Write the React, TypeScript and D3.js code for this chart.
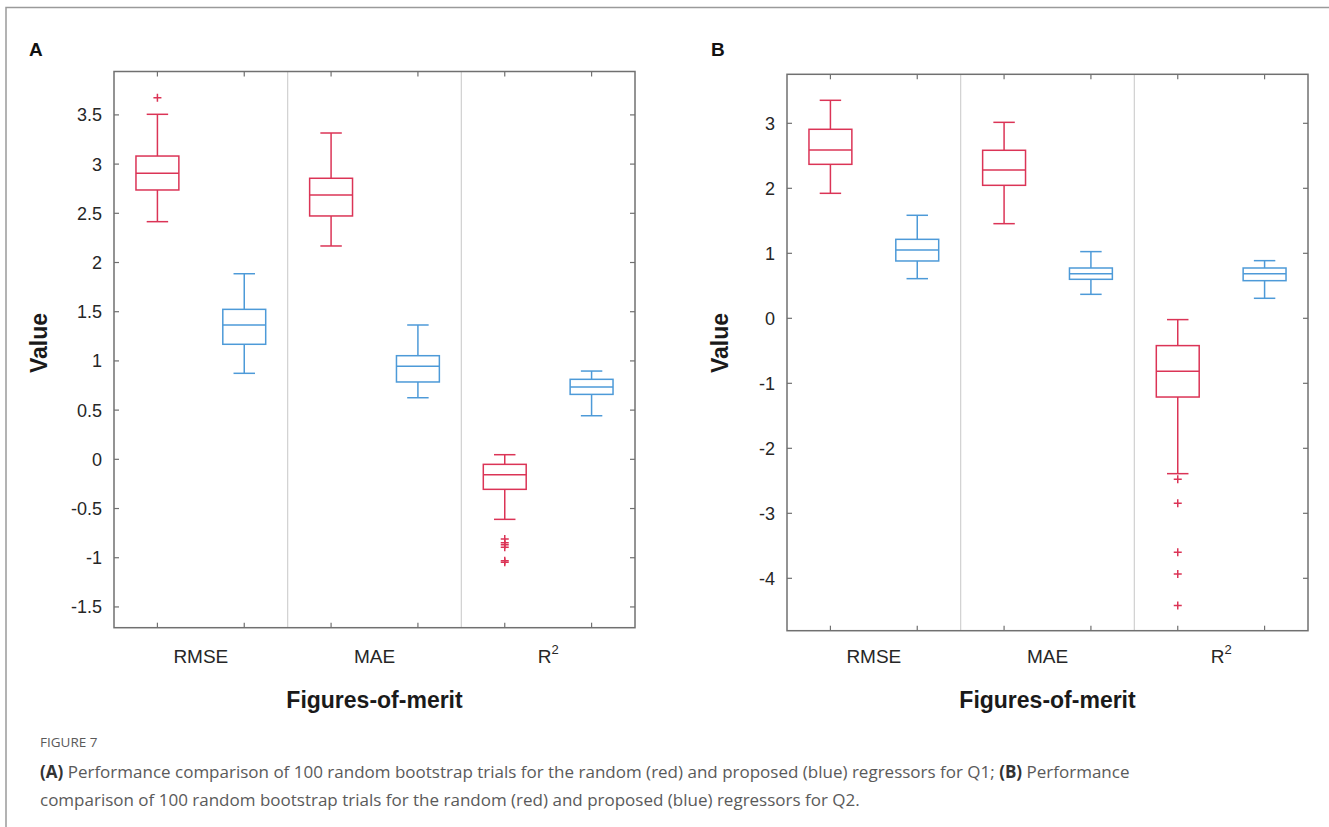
import React, { useEffect, useRef } from "react";
import * as d3 from "d3";

// figures-of-merit and the two regressors
const metrics = ["RMSE", "MAE", "R2"];
const regressors = ["random", "proposed"];

// box stats per metric: [lower whisker, q1, median, q3, upper whisker]
const randomQ1 = [
  [2.415, 2.737, 2.906, 3.082, 3.506],
  [2.168, 2.473, 2.686, 2.856, 3.316],
  [-0.61, -0.305, -0.156, -0.051, 0.047],
];
const proposedQ1 = [
  [0.874, 1.169, 1.365, 1.524, 1.886],
  [0.626, 0.786, 0.945, 1.053, 1.365],
  [0.443, 0.66, 0.735, 0.813, 0.897],
];
const randomQ1Outliers = [[3.675], [], [-0.81, -0.848, -0.867, -0.894, -1.03, -1.045]];
const proposedQ1Outliers = [[], [], []];

const randomQ2 = [
  [1.923, 2.369, 2.59, 2.908, 3.354],
  [1.456, 2.046, 2.282, 2.585, 3.015],
  [-2.39, -1.211, -0.815, -0.42, -0.02],
];
const proposedQ2 = [
  [0.61, 0.882, 1.051, 1.215, 1.585],
  [0.369, 0.6, 0.687, 0.774, 1.026],
  [0.308, 0.579, 0.687, 0.774, 0.887],
];
const randomQ2Outliers = [[], [], [-2.477, -2.846, -3.6, -3.934, -4.42]];
const proposedQ2Outliers = [[], [], []];

const ticksQ1 = [-1.5, -1, -0.5, 0, 0.5, 1, 1.5, 2, 2.5, 3, 3.5];
const ticksQ2 = [-4, -3, -2, -1, 0, 1, 2, 3];
const domainQ1 = [-1.711, 3.941];
const domainQ2 = [-4.806, 3.754];

const RED = "#db3456";
const BLUE = "#4d9ad8";
const AXIS = "#707070";
const FONT = "'Liberation Sans', Arial, Helvetica, sans-serif";

function drawPanel(svg, p) {
  const g = svg.append("g");
  const x = d3.scaleBand().domain(metrics).range([p.left, p.right]);
  const inner = d3.scalePoint().domain(regressors).range([0, x.bandwidth()]).padding(0.5);
  const y = d3.scaleLinear().domain(p.domain).range([p.bottom, p.top]);
  const bw = x.bandwidth() * 0.247;
  const cap = bw / 2;
  const tick = 5;

  // group separators
  g.selectAll(".sep").data(metrics.slice(1)).join("line")
    .attr("x1", d => x(d)).attr("x2", d => x(d))
    .attr("y1", p.top).attr("y2", p.bottom)
    .attr("stroke", "#d0d0d0").attr("stroke-width", 1.2);

  // boxes
  const series = [
    { key: "random", stats: p.random, out: p.randomOut, color: RED },
    { key: "proposed", stats: p.proposed, out: p.proposedOut, color: BLUE },
  ];
  series.forEach(s => {
    metrics.forEach((m, i) => {
      const [lo, q1, med, q3, hi] = s.stats[i];
      const cx = x(m) + inner(s.key);
      const bg = g.append("g").attr("stroke", s.color).attr("stroke-width", 1.5).attr("fill", "none");
      bg.append("line").attr("x1", cx).attr("x2", cx).attr("y1", y(hi)).attr("y2", y(q3));
      bg.append("line").attr("x1", cx).attr("x2", cx).attr("y1", y(q1)).attr("y2", y(lo));
      bg.append("line").attr("x1", cx - cap / 2).attr("x2", cx + cap / 2).attr("y1", y(hi)).attr("y2", y(hi));
      bg.append("line").attr("x1", cx - cap / 2).attr("x2", cx + cap / 2).attr("y1", y(lo)).attr("y2", y(lo));
      bg.append("rect").attr("x", cx - bw / 2).attr("width", bw)
        .attr("y", y(q3)).attr("height", y(q1) - y(q3));
      bg.append("line").attr("x1", cx - bw / 2).attr("x2", cx + bw / 2).attr("y1", y(med)).attr("y2", y(med));
      bg.selectAll(".out").data(s.out[i]).join("path")
        .attr("d", "M-4,0H4M0,-4V4")
        .attr("transform", d => `translate(${cx},${y(d)})`);
    });
  });

  // axes box
  g.append("rect").attr("x", p.left).attr("y", p.top)
    .attr("width", p.right - p.left).attr("height", p.bottom - p.top)
    .attr("fill", "none").attr("stroke", AXIS).attr("stroke-width", 1.5);

  const ticks = g.append("g").attr("stroke", AXIS).attr("stroke-width", 1.2);
  p.ticks.forEach(v => {
    ticks.append("line").attr("x1", p.left).attr("x2", p.left + tick).attr("y1", y(v)).attr("y2", y(v));
    ticks.append("line").attr("x1", p.right - tick).attr("x2", p.right).attr("y1", y(v)).attr("y2", y(v));
  });
  metrics.forEach(m => regressors.forEach(r => {
    const cx = x(m) + inner(r);
    ticks.append("line").attr("x1", cx).attr("x2", cx).attr("y1", p.bottom).attr("y2", p.bottom - tick);
    ticks.append("line").attr("x1", cx).attr("x2", cx).attr("y1", p.top).attr("y2", p.top + tick);
  }));

  g.selectAll(".ylab").data(p.ticks).join("text")
    .attr("x", p.left - 12).attr("y", d => y(d) + 6.5)
    .attr("text-anchor", "end").attr("font-family", FONT).attr("font-size", 18).attr("fill", "#262626")
    .text(d => String(d));

  // metric labels
  metrics.forEach(m => {
    const t = g.append("text").attr("x", x(m) + x.bandwidth() / 2).attr("y", 663)
      .attr("text-anchor", "middle").attr("font-family", FONT).attr("font-size", 19).attr("fill", "#262626");
    if (m === "R2") {
      t.append("tspan").text("R");
      t.append("tspan").attr("font-size", 13).attr("dy", -9).text("2");
    } else t.text(m);
  });

  g.append("text").attr("x", (p.left + p.right) / 2).attr("y", 708)
    .attr("text-anchor", "middle").attr("font-family", FONT).attr("font-weight", "bold")
    .attr("font-size", 23).attr("fill", "#1a1a1a").text("Figures-of-merit");

  g.append("text").attr("transform", `translate(${p.valueX},343) rotate(-90)`)
    .attr("text-anchor", "middle").attr("font-family", FONT).attr("font-weight", "bold")
    .attr("font-size", 23).attr("fill", "#1a1a1a").text("Value");

  g.append("text").attr("x", p.letterX).attr("y", 56)
    .attr("font-family", FONT).attr("font-weight", "bold").attr("font-size", 19).attr("fill", "#111")
    .text(p.letter);
}

export default function App() {
  const ref = useRef(null);

  useEffect(() => {
    const svg = d3.select(ref.current);
    svg.selectAll("*").remove();

    // card border
    svg.append("path").attr("d", "M6,827V7.5H1329").attr("fill", "none")
      .attr("stroke", "#9a9a9a").attr("stroke-width", 1.5);

    drawPanel(svg, {
      left: 114, right: 635, top: 71.5, bottom: 627.7, domain: domainQ1, ticks: ticksQ1,
      random: randomQ1, proposed: proposedQ1, randomOut: randomQ1Outliers, proposedOut: proposedQ1Outliers,
      letter: "A", letterX: 29, valueX: 47,
    });
    drawPanel(svg, {
      left: 787, right: 1308, top: 74.3, bottom: 630.7, domain: domainQ2, ticks: ticksQ2,
      random: randomQ2, proposed: proposedQ2, randomOut: randomQ2Outliers, proposedOut: proposedQ2Outliers,
      letter: "B", letterX: 711, valueX: 728,
    });

    // caption
    const cap = svg.append("g").attr("font-family", "'Open Sans', 'Noto Sans', sans-serif").attr("fill", "#5a5a5a");
    cap.append("text").attr("x", 40).attr("y", 747).attr("font-size", 13.5).text("FIGURE 7");
    const l1 = cap.append("text").attr("x", 40).attr("y", 778).attr("font-size", 17);
    l1.append("tspan").attr("font-weight", "bold").attr("fill", "#333").text("(A)");
    l1.append("tspan").text(" Performance comparison of 100 random bootstrap trials for the random (red) and proposed (blue) regressors for Q1; ");
    l1.append("tspan").attr("font-weight", "bold").attr("fill", "#333").text("(B)");
    l1.append("tspan").text(" Performance");
    cap.append("text").attr("x", 40).attr("y", 806).attr("font-size", 17)
      .text("comparison of 100 random bootstrap trials for the random (red) and proposed (blue) regressors for Q2.");
  }, []);

  return (
    <svg ref={ref} width={1329} height={827}
      style={{ position: "absolute", left: 0, top: 0, background: "#fff" }} />
  );
}
